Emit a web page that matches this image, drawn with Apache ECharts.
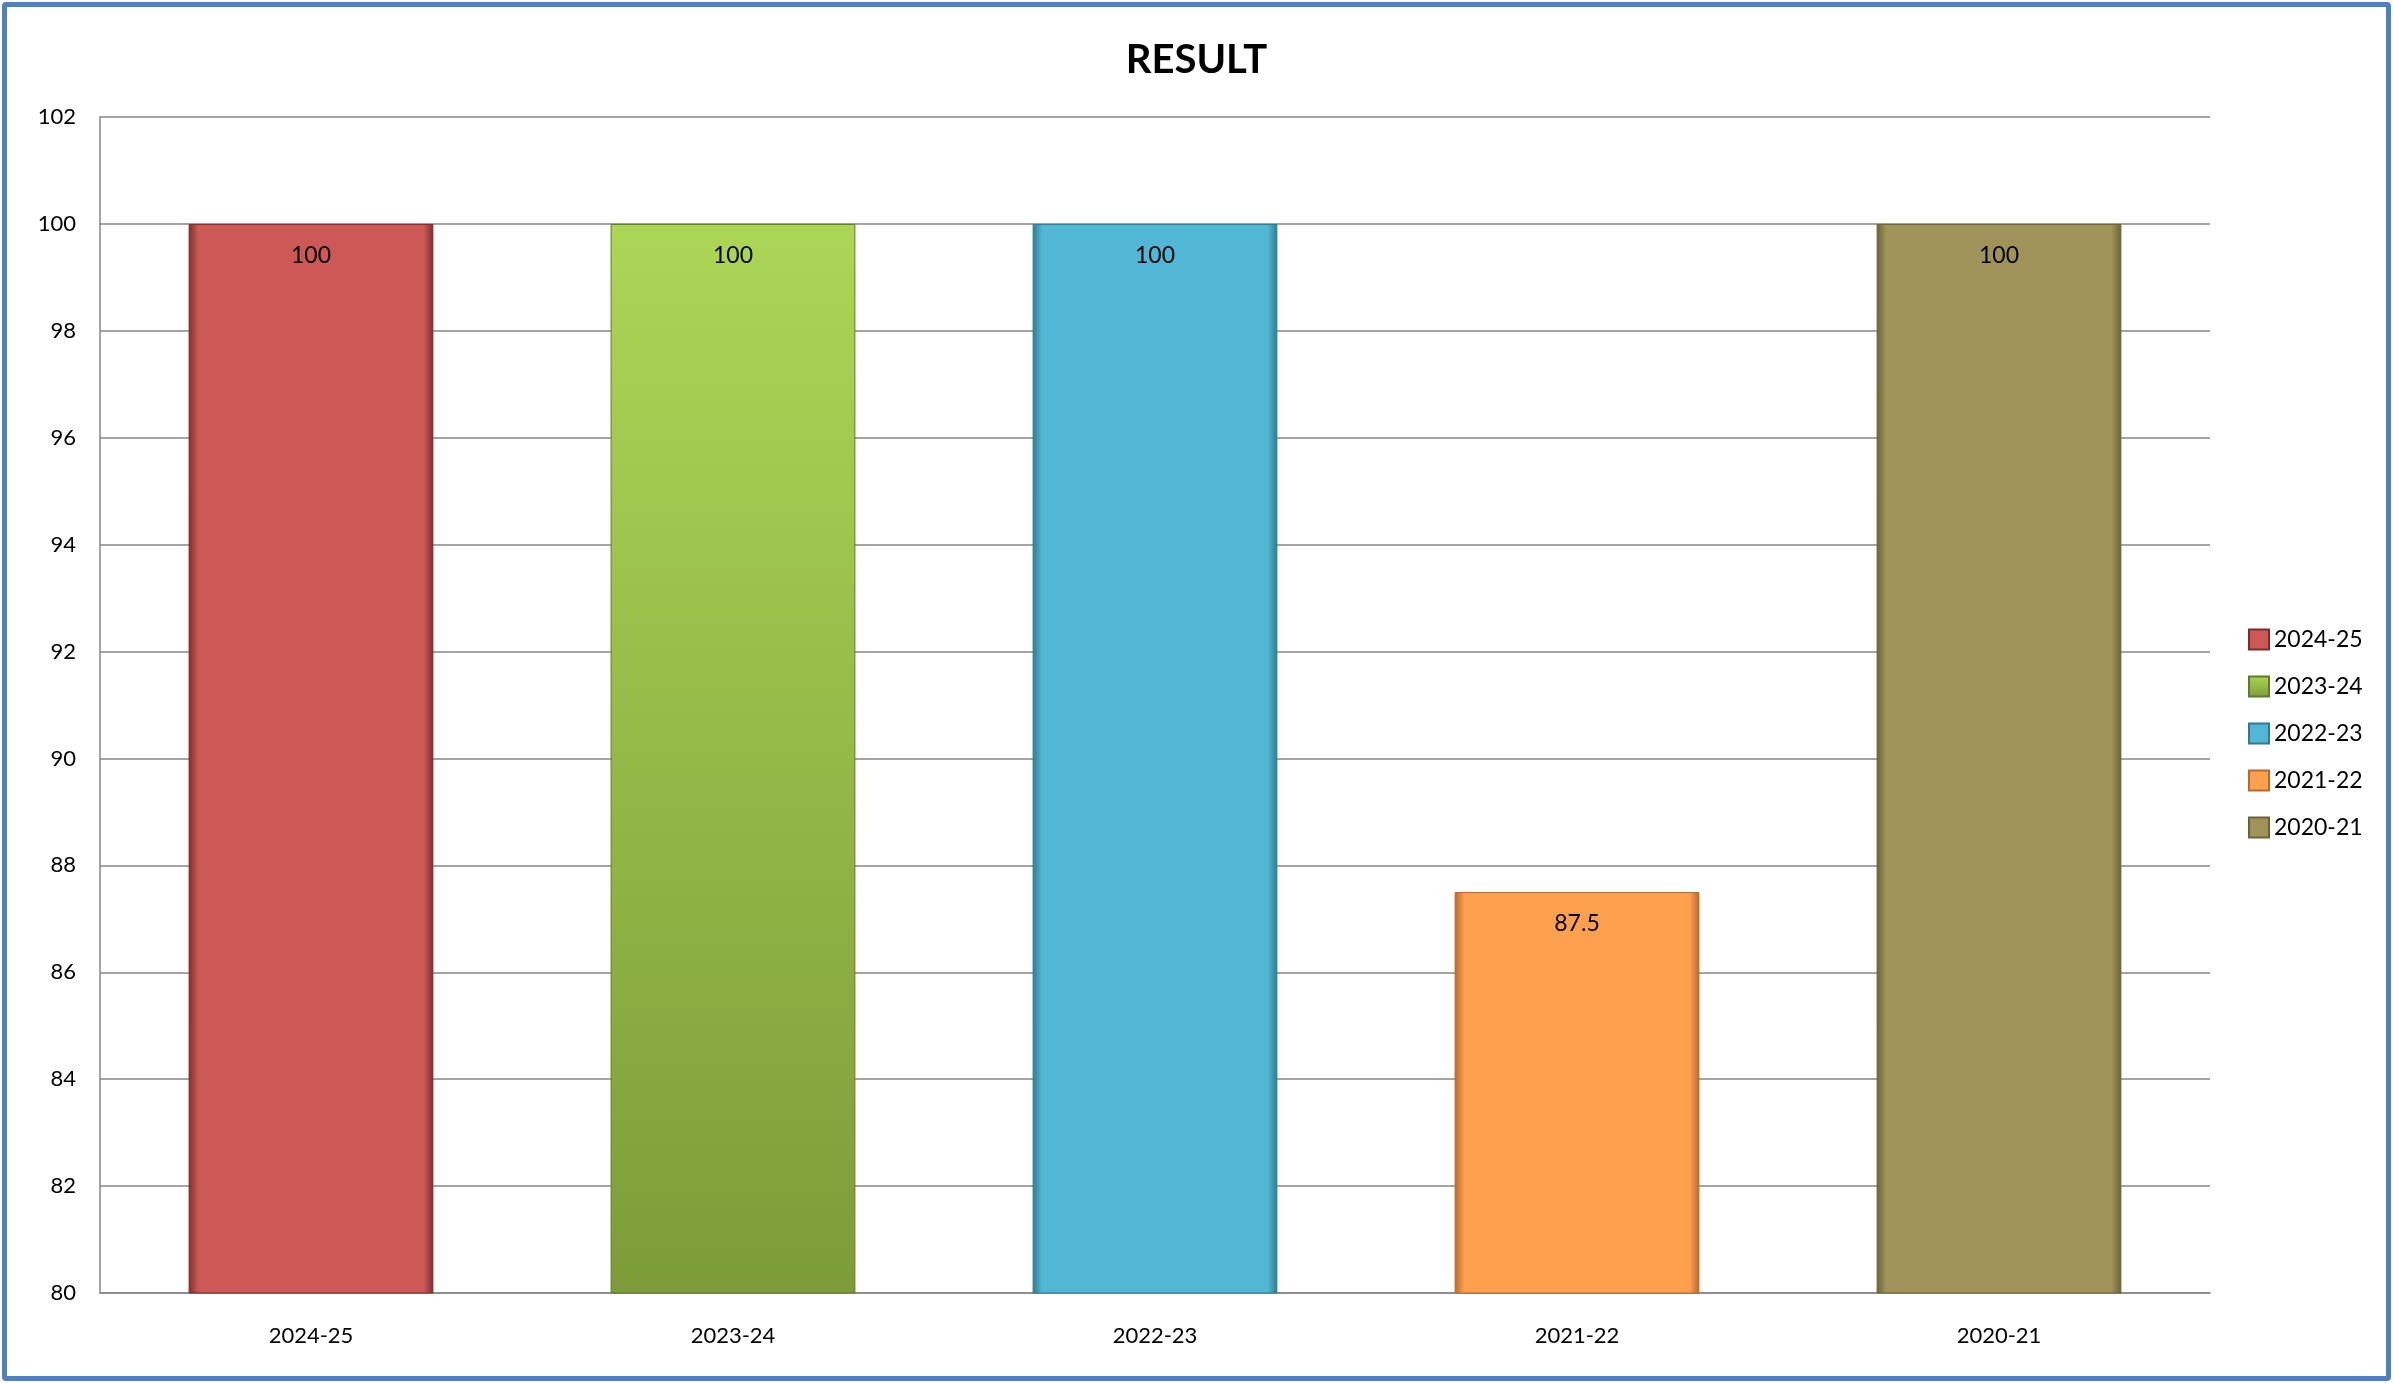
<!DOCTYPE html>
<html>
<head>
<meta charset="utf-8">
<script src="https://cdn.jsdelivr.net/npm/echarts@6/dist/echarts.min.js"></script>
<style>
  html, body { margin: 0; padding: 0; background: #fff; }
  #chart {
    position: absolute; left: 2px; top: 2px;
    width: 2379px; height: 1369px;
    border: 5px solid #4F81BD; border-radius: 4px;
    background: #fff;
  }
</style>
</head>
<body>
<div id="chart"></div>
<script>
(function () {
var myChart = echarts.init(document.getElementById("chart"));

var years = ["2024-25", "2023-24", "2022-23", "2021-22", "2020-21"];
var results = [100, 100, 100, 87.5, 100];
var baseColors = ["#CD5957", "#98BC4A", "#52B7D4", "#FFA04F", "#A0935A"];
var edgeColors = ["#7A2E2C", "#5F7A2A", "#2F7A90", "#B8692A", "#6B6236"];

function edgeFill(i) {
    if (i == 1) {
        return new echarts.graphic.LinearGradient(0, 0, 0, 1, [
            { offset: 0, color: "#ACD656" },
            { offset: 1, color: "#7D9C39" }
        ]);
    }
    return new echarts.graphic.LinearGradient(0, 0, 1, 0, [
        { offset: 0, color: edgeColors[i] },
        { offset: 0.04, color: baseColors[i] },
        { offset: 0.96, color: baseColors[i] },
        { offset: 1, color: edgeColors[i] }
    ]);
}

var series = [];
for (var i = 0; i < years.length; i++) {
    var d = [];
    for (var j = 0; j < years.length; j++) {
        d.push(j == i ? results[j] : "-");
    }
    series.push({
        name: years[i],
        type: "bar",
        data: d,
        barWidth: "58%",
        barGap: "-100%",
        itemStyle: {
            color: edgeFill(i),
            borderColor: edgeColors[i],
            borderWidth: 1
        },
        label: {
            show: true,
            position: "insideTop",
            distance: 20,
            color: "#000",
            fontSize: 23,
            fontFamily: "Lato"
        }
    });
}

var option = {
    animation: false,
    textStyle: { fontFamily: "Lato" },
    title: {
        text: "RESULT",
        left: "center",
        top: 28,
        textStyle: { fontSize: 40, fontWeight: "bold", color: "#000", fontFamily: "Lato" }
    },
    legend: {
        data: years,
        orient: "vertical",
        left: 2236,
        top: 616,
        itemWidth: 20,
        itemHeight: 20,
        itemGap: 24,
        icon: "rect",
        textStyle: { fontSize: 23, color: "#000", fontFamily: "Lato" }
    },
    grid: { left: 93, right: 176, top: 110, bottom: 83 },
    xAxis: {
        type: "category",
        data: years,
        axisLine: { lineStyle: { color: "#868686", width: 1.5 } },
        axisTick: { show: false },
        axisLabel: { fontSize: 22, color: "#000", margin: 32 }
    },
    yAxis: {
        type: "value",
        min: 80,
        max: 102,
        interval: 2,
        axisLine: { show: true, lineStyle: { color: "#868686", width: 1.5 } },
        axisTick: { show: false },
        splitLine: { lineStyle: { color: "#868686", width: 1.5 } },
        axisLabel: { fontSize: 22, color: "#000", margin: 24 }
    },
    series: series
};

myChart.setOption(option);
window.addEventListener("resize", function () {
    myChart.resize();
});
})();
</script>
</body>
</html>
